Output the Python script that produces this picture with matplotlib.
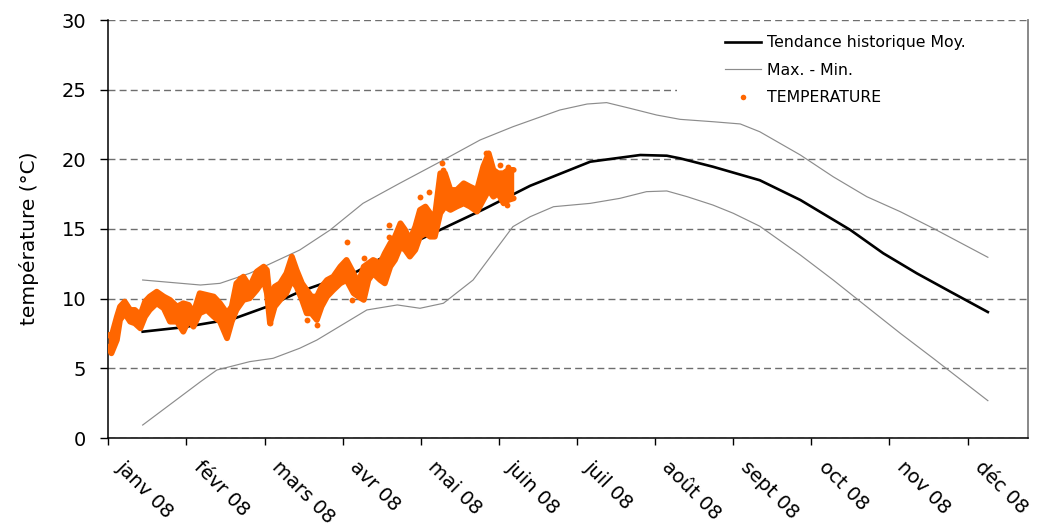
import matplotlib
matplotlib.use("Agg")
import matplotlib.pyplot as plt
from matplotlib.lines import Line2D
from matplotlib.patches import Rectangle
import matplotlib.transforms as mtransforms

# ---------------- data (x in months from 1 Jan 2008) ----------------
months = ["janv 08", "févr 08", "mars 08", "avr 08", "mai 08", "juin 08",
          "juil 08", "août 08", "sept 08", "oct 08", "nov 08", "déc 08"]

moy_x = [0.44, 0.96, 1.60, 2.03, 2.45, 3.18, 3.57, 4.29, 4.80, 5.40, 6.17,
         6.81, 7.15, 7.32, 7.74, 8.34, 8.86, 9.50, 9.92, 10.35, 10.78, 11.26]
moy_y = [7.63, 7.95, 8.55, 9.42, 10.5, 11.94, 13.13, 15.05, 16.4, 18.1, 19.83,
         20.31, 20.26, 20.07, 19.47, 18.5, 17.08, 14.93, 13.26, 11.82, 10.5, 9.04]

max_x = [0.44, 1.18, 1.43, 1.81, 2.45, 2.84, 3.26, 3.73, 4.25, 4.76, 5.18, 5.78,
         6.13, 6.38, 6.68, 7.02, 7.32, 7.74, 8.09, 8.34, 8.86, 9.28, 9.71,
         10.14, 10.56, 11.26]
max_y = [11.34, 10.98, 11.1, 11.82, 13.49, 14.93, 16.84, 18.28, 19.83, 21.39,
         22.34, 23.54, 23.97, 24.07, 23.66, 23.18, 22.87, 22.7, 22.54, 21.98,
         20.31, 18.75, 17.32, 16.24, 15.05, 12.97]

min_x = [0.44, 1.18, 1.39, 1.81, 2.11, 2.45, 2.67, 3.31, 3.70, 3.99, 4.29, 4.67,
         5.18, 5.40, 5.70, 6.17, 6.55, 6.89, 7.15, 7.41, 7.74, 8.00, 8.34,
         8.86, 9.28, 9.71, 10.14, 10.56, 11.26]
min_y = [0.93, 4.04, 4.88, 5.48, 5.72, 6.44, 7.03, 9.19, 9.55, 9.31, 9.67, 11.34,
         15.17, 15.88, 16.6, 16.84, 17.2, 17.68, 17.73, 17.32, 16.72, 16.13,
         15.2, 13.13, 11.34, 9.42, 7.51, 5.72, 2.68]

# measured temperature: band (daily low / high envelope)
temp_x = [0.0, 0.04, 0.11, 0.15, 0.21, 0.28, 0.34, 0.41, 0.47, 0.53, 0.62, 0.71,
          0.79, 0.88, 0.96, 1.03, 1.09, 1.17, 1.26, 1.35, 1.43, 1.52, 1.58, 1.64,
          1.73, 1.81, 1.90, 1.99, 2.03, 2.07, 2.13, 2.20, 2.28, 2.35, 2.41, 2.48,
          2.54, 2.60, 2.67, 2.73, 2.80, 2.88, 2.97, 3.05, 3.14, 3.20, 3.27, 3.33,
          3.39, 3.48, 3.54, 3.61, 3.67, 3.74, 3.80, 3.86, 3.93, 3.99, 4.06, 4.12,
          4.18, 4.25, 4.31, 4.38, 4.46, 4.55, 4.63, 4.72, 4.80, 4.87, 4.93, 4.99,
          5.06, 5.12, 5.19]
temp_hi = [7.39, 7.28, 8.71, 9.43, 9.79, 9.19, 9.19, 8.83, 9.79, 10.15, 10.5, 10.15,
           9.91, 9.43, 9.67, 9.55, 8.95, 10.39, 10.27, 10.15, 9.67, 8.95, 9.43, 11.1,
           11.58, 10.86, 11.94, 12.3, 12.06, 9.91, 10.86, 11.1, 11.82, 13.02, 12.06,
           11.1, 10.62, 10.15, 10.15, 10.86, 11.34, 11.58, 12.3, 12.78, 11.82, 11.1,
           12.3, 12.54, 12.78, 12.54, 13.26, 13.97, 14.45, 15.41, 14.93, 14.21, 15.17,
           16.37, 16.61, 16.13, 15.89, 19.0, 19.0, 17.8, 17.8, 18.28, 18.04, 17.8,
           19.48, 20.43, 19.24, 19.0, 19.0, 19.24, 19.24]
temp_lo = [6.56, 6.08, 7.04, 8.47, 8.95, 8.35, 8.23, 7.87, 8.71, 9.19, 9.67, 9.31,
           8.35, 8.35, 7.63, 8.47, 7.99, 8.95, 9.19, 8.71, 8.35, 7.16, 8.35, 9.19,
           9.91, 10.03, 10.62, 11.34, 10.39, 8.23, 9.43, 9.91, 10.39, 11.34, 10.86,
           9.91, 8.95, 8.95, 8.47, 9.43, 10.15, 10.62, 11.1, 11.34, 10.39, 10.15,
           9.91, 11.34, 11.82, 11.34, 11.1, 12.3, 12.78, 13.73, 13.5, 13.02, 13.5,
           14.45, 14.69, 14.45, 14.45, 16.13, 16.61, 16.37, 16.61, 16.84, 16.61,
           16.25, 17.08, 17.8, 17.32, 17.56, 16.84, 17.08, 17.2]
# isolated readings
out_x = [1.69, 3.05, 3.27, 3.59, 3.59, 3.59, 3.99, 4.10, 4.27, 4.29, 5.02, 5.12,
         2.54, 2.67, 2.07, 3.12, 5.10, 2.20, 4.84]
out_y = [11.46, 14.09, 12.9, 15.29, 14.45, 13.73, 17.32, 17.68, 19.72, 19.24,
         19.6, 19.48, 8.47, 8.11, 8.23, 9.91, 16.72, 11.1, 20.43]

# ---------------- figure ----------------
W, H = 1045, 527
fig = plt.figure(figsize=(W / 100, H / 100), dpi=100)
L, R, B, T = 108.3, 1027.7, 438, 20
ax = fig.add_axes([L / W, 1 - B / H, (R - L) / W, (B - T) / H])

orange = "#FF6600"
gray = "#8C8C8C"

ax.set_xlim(0, 11.77)
ax.set_ylim(0, 30)
ax.set_yticks(range(0, 31, 5))
ax.set_xticks(range(12))

ax.set_axisbelow(True)
ax.yaxis.grid(True, color="#6E6E6E", linestyle=(0, (5, 3)), linewidth=1.0)
ax.xaxis.grid(False)

# white area behind legend
ax.add_patch(Rectangle(((677 - L) / (R - L), (B - 116) / (B - T)),
                       (R - 677) / (R - L), (116 - 22) / (B - T),
                       transform=ax.transAxes, facecolor="white",
                       edgecolor="none", zorder=1))

ax.plot(max_x, max_y, color=gray, lw=0.85, zorder=2)
ax.plot(min_x, min_y, color=gray, lw=0.85, zorder=2)
ax.plot(moy_x, moy_y, color="black", lw=1.9, zorder=3)

ax.fill_between(temp_x, temp_lo, temp_hi, color=orange, lw=0, zorder=4)
ax.plot(temp_x, temp_hi, color=orange, lw=4.2, solid_capstyle="round",
        solid_joinstyle="round", zorder=4)
ax.plot(temp_x, temp_lo, color=orange, lw=4.2, solid_capstyle="round",
        solid_joinstyle="round", zorder=4)
ax.plot(out_x, out_y, "o", color=orange, ms=4.2, mec="none", zorder=4)

# spines
ax.spines["top"].set_visible(False)
ax.spines["right"].set_color("#7F7F7F")
ax.spines["right"].set_linewidth(1.3)
ax.spines["left"].set_linewidth(1.1)
ax.spines["bottom"].set_linewidth(1.1)

ax.tick_params(axis="y", direction="out", length=5.8, width=1.0, pad=10,
               labelsize=14, colors="black")
ax.tick_params(axis="x", direction="out", length=5, width=1.0, pad=9,
               labelsize=14)
ax.set_xticklabels(months, rotation=-45, ha="left", va="top",
                   rotation_mode="anchor")
offset = mtransforms.ScaledTranslation(17 / 100, 0, fig.dpi_scale_trans)
for lab in ax.get_xticklabels():
    lab.set_transform(lab.get_transform() + offset)

ax.set_ylabel("température (°C)", fontsize=14.5)
ax.yaxis.set_label_coords((39 - L) / (R - L), 0.478)

handles = [Line2D([], [], color="black", lw=1.9),
           Line2D([], [], color=gray, lw=0.85),
           Line2D([], [], color=orange, marker="o", ls="none", ms=4, mec="none")]
labels = ["Tendance historique Moy.", "Max. - Min.", "TEMPERATURE"]
ax.legend(handles, labels, loc="upper left",
          bbox_to_anchor=((725 - L) / (R - L), (B - 35) / (B - T)),
          frameon=False, fontsize=11.3, borderpad=0, borderaxespad=0,
          handlelength=2.3, handletextpad=0.35, labelspacing=0.8,
          numpoints=1)

fig.savefig("out.png", dpi=100)
